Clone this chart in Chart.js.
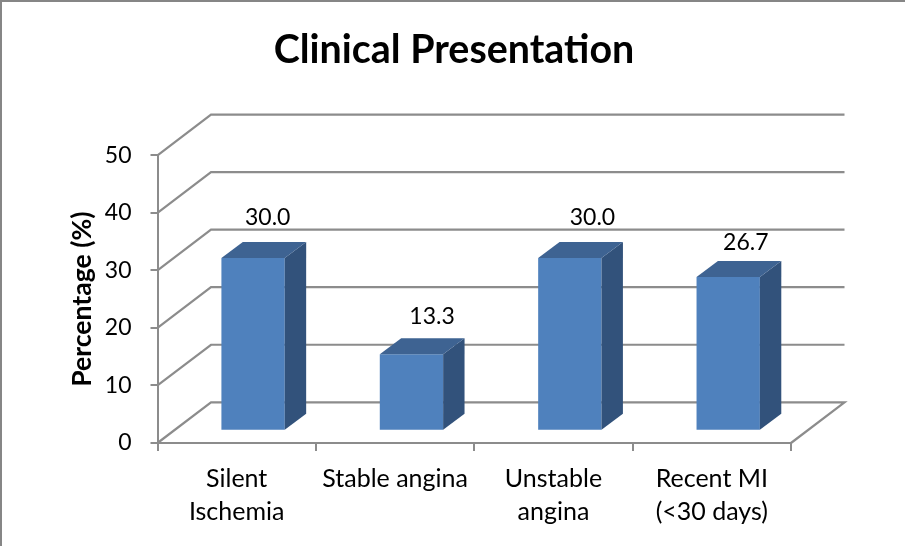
<!DOCTYPE html>
<html>
<head>
<meta charset="utf-8">
<style>
html,body{margin:0;padding:0;background:#fff;}
canvas{display:block;}
</style>
<script src="https://cdn.jsdelivr.net/npm/chart.js@4"></script>
</head>
<body>
<canvas id="c" width="905" height="546"></canvas>
<script>
const categories = [["Silent","Ischemia"],"Stable angina",["Unstable","angina"],["Recent MI","(<30 days)"]];
const values = [30.0, 13.3, 30.0, 26.7];
const valueLabels = ["30.0","13.3","30.0","26.7"];
const labelNudgeX = [31, 37, 39, 34];
const labelNudgeY = [-53, -50, -53, -46.5];
const yMin = 0, yMax = 50, yStep = 10;

const GRID = '#8c8c8c';
const wallDx = 53.5, wallDy = -40.7;
const seatDx = 16.4, seatDy = -12.3;
const barDx = 21.4, barDy = -16;

const scene = {
  id: 'scene',
  beforeDraw(chart){
    const {ctx, width, height} = chart;
    ctx.save();
    ctx.fillStyle = '#fff';
    ctx.fillRect(0,0,width,height);
    ctx.fillStyle = '#868686';
    ctx.fillRect(0,0,width,2);
    ctx.fillRect(0,0,2,height);
    ctx.restore();
  },
  beforeDatasetsDraw(chart){
    const {ctx, scales:{x,y}} = chart;
    const l = x.left, r = x.right;
    ctx.save();
    ctx.strokeStyle = GRID;
    ctx.lineWidth = 2.2;
    for (let v = yMin; v <= yMax; v += yStep) {
      const p = y.getPixelForValue(v);
      ctx.beginPath();
      ctx.moveTo(l, p);
      ctx.lineTo(l + wallDx, p + wallDy);
      ctx.lineTo(r + wallDx, p + wallDy);
      if (v === yMin) ctx.lineTo(r, p);
      ctx.stroke();
    }
    ctx.restore();
    ctx.save();
    ctx.translate(seatDx, seatDy);
  },
  afterDatasetsDraw(chart){
    const {ctx} = chart;
    const bars = chart.getDatasetMeta(0).data;
    bars.forEach(b => {
      const L = b.x - b.width/2, R = b.x + b.width/2, T = b.y, B = b.base;
      ctx.fillStyle = '#32527B';
      ctx.beginPath();
      ctx.moveTo(R,T); ctx.lineTo(R+barDx,T+barDy); ctx.lineTo(R+barDx,B+barDy); ctx.lineTo(R,B);
      ctx.closePath(); ctx.fill();
      ctx.fillStyle = '#3E6392';
      ctx.beginPath();
      ctx.moveTo(L,T); ctx.lineTo(L+barDx,T+barDy); ctx.lineTo(R+barDx,T+barDy); ctx.lineTo(R,T);
      ctx.closePath(); ctx.fill();
    });
    ctx.restore();
    ctx.save();
    ctx.fillStyle = '#000';
    ctx.font = '23px Lato';
    ctx.textAlign = 'center';
    ctx.textBaseline = 'middle';
    bars.forEach((b,i) => {
      ctx.fillText(valueLabels[i], b.x + labelNudgeX[i], b.y + labelNudgeY[i]);
    });
    ctx.restore();
  }
};

new Chart(document.getElementById('c'), {
  type: 'bar',
  data: {
    labels: categories,
    datasets: [{
      data: values,
      backgroundColor: '#4F81BD',
      borderWidth: 0,
      categoryPercentage: 1,
      barPercentage: 0.4,
      clip: false
    }]
  },
  options: {
    responsive: false,
    animation: false,
    devicePixelRatio: 1,
    layout: { padding: { left: 3, right: 0, top: 0, bottom: 0 } },
    plugins: {
      legend: { display: false },
      tooltip: { enabled: false },
      title: {
        display: true,
        text: 'Clinical Presentation',
        color: '#000',
        font: { family: 'Lato', size: 39.4, weight: 'bold' },
        padding: { top: 27, bottom: 81 }
      }
    },
    scales: {
      x: {
        afterFit(s){ s.height = 103; },
        grid: { drawOnChartArea: false, color: GRID, lineWidth: 2, tickLength: 8, offset: true },
        border: { color: GRID, width: 2 },
        ticks: { color: '#000', font: { family: 'Lato', size: 25, lineHeight: 1.32 }, padding: 11, maxRotation: 0, autoSkip: false }
      },
      y: {
        min: yMin, max: yMax,
        afterFit(s){ s.width = 154.5; },
        grid: { drawOnChartArea: false, color: GRID, lineWidth: 2, tickLength: 7 },
        border: { color: GRID, width: 2 },
        ticks: { stepSize: yStep, color: '#000', font: { family: 'Lato', size: 23 }, padding: 19 },
        title: { display: true, text: 'Percentage (%)', color: '#000', font: { family: 'Lato', size: 26.6, weight: 'bold' }, padding: { top: 63, bottom: 0 } }
      },
      margin: {
        position: 'right',
        min: yMin, max: yMax,
        afterFit(s){ s.width = 114; },
        grid: { display: false },
        border: { display: false },
        ticks: { display: false }
      }
    }
  },
  plugins: [scene]
});
</script>
</body>
</html>
